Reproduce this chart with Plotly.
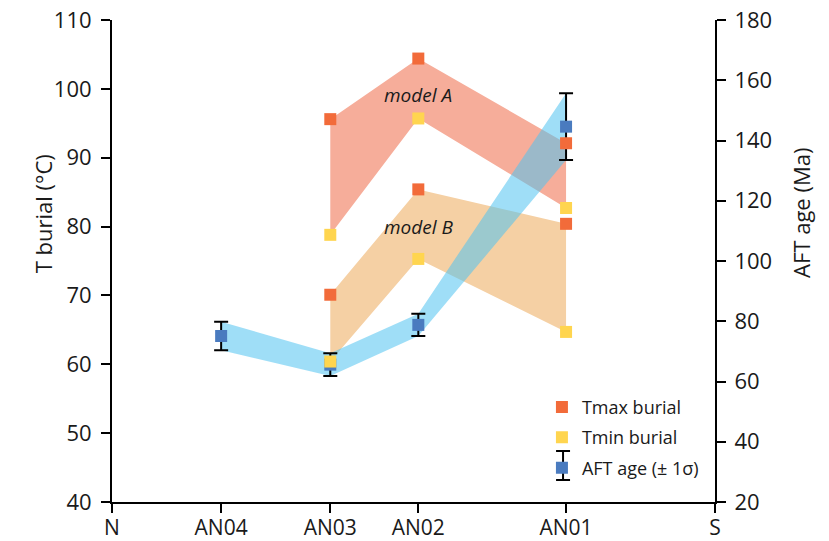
import plotly.graph_objects as go

# ---- data ----
axis_labels = ["N", "AN04", "AN03", "AN02", "AN01", "S"]
axis_pos = [0, 18.1, 36.2, 50.8, 75.3, 100]

model_sites = ["AN03", "AN02", "AN01"]
tmax_A = [95.6, 104.4, 92.1]
tmin_A = [78.8, 95.7, 82.7]
tmax_B = [70.1, 85.4, 80.4]
tmin_B = [60.4, 75.3, 64.7]

aft_sites = ["AN04", "AN03", "AN02", "AN01"]
aft_age = [75.1, 65.6, 78.8, 144.6]
aft_err = [4.7, 3.8, 3.7, 11.1]

pos = dict(zip(axis_labels, axis_pos))
mx = [pos[s] for s in model_sites]
ax_ = [pos[s] for s in aft_sites]

FONT = "Open Sans"
TXT = "#1a1a1a"
C_TMAX = "#F26B3A"
C_TMIN = "#FFD54F"
C_AFT = "#4A7BBF"

fig = go.Figure()

# model bands (left axis)
fig.add_trace(go.Scatter(x=mx + mx[::-1], y=tmax_A + tmin_A[::-1], fill="toself",
                         fillcolor="#F6AD9A", line=dict(width=0), mode="lines",
                         hoverinfo="skip", showlegend=False, yaxis="y"))
fig.add_trace(go.Scatter(x=mx + mx[::-1], y=tmax_B + tmin_B[::-1], fill="toself",
                         fillcolor="#F5D0A4", line=dict(width=0), mode="lines",
                         hoverinfo="skip", showlegend=False, yaxis="y"))

# AFT band and points (right axis)
upper = [a + e for a, e in zip(aft_age, aft_err)]
lower = [a - e for a, e in zip(aft_age, aft_err)]
fig.add_trace(go.Scatter(x=ax_ + ax_[::-1], y=upper + lower[::-1], fill="toself",
                         fillcolor="rgba(80,195,240,0.55)", line=dict(width=0), mode="lines",
                         hoverinfo="skip", showlegend=False, yaxis="y2"))
fig.add_trace(go.Scatter(x=ax_, y=aft_age, mode="markers", name="AFT age (\u00b1 1\u03c3)",
                         marker=dict(symbol="square", size=12, color=C_AFT),
                         error_y=dict(type="data", array=aft_err, color="black", thickness=2, width=7),
                         legendrank=3, legendgroup="c", yaxis="y2"))

# temperature points (top layer, same scale as left axis)
fig.add_trace(go.Scatter(x=mx + mx, y=tmin_A + tmin_B, mode="markers", name="Tmin burial",
                         marker=dict(symbol="square", size=12, color=C_TMIN),
                         legendrank=2, legendgroup="b", yaxis="y3"))
fig.add_trace(go.Scatter(x=mx + mx, y=tmax_A + tmax_B, mode="markers", name="Tmax burial",
                         marker=dict(symbol="square", size=12, color=C_TMAX),
                         legendrank=1, legendgroup="a", yaxis="y3"))

axis_common = dict(showgrid=False, zeroline=False, showline=True, linecolor="black",
                   linewidth=2, ticks="outside", ticklen=9, tickwidth=2, tickcolor="black",
                   automargin=False, ticklabeloverflow="allow")

# legend error-bar glyph for the AFT entry (paper coordinates)
lx, ly0, ly1, cap = 0.748, 0.0456, 0.1058, 0.0116
legend_bar = [
    dict(type="line", xref="paper", yref="paper", x0=lx, x1=lx, y0=ly0, y1=ly1,
         line=dict(color="black", width=2)),
    dict(type="line", xref="paper", yref="paper", x0=lx - cap, x1=lx + cap, y0=ly0, y1=ly0,
         line=dict(color="black", width=2)),
    dict(type="line", xref="paper", yref="paper", x0=lx - cap, x1=lx + cap, y0=ly1, y1=ly1,
         line=dict(color="black", width=2)),
]

fig.update_layout(
    width=821, height=533,
    margin=dict(l=104, r=114, t=12, b=39, autoexpand=False),
    paper_bgcolor="white", plot_bgcolor="white",
    xaxis=dict(range=[0, 100], tickvals=axis_pos, ticktext=axis_labels,
               ticklabelstandoff=-3, tickfont=dict(family=FONT, size=21, color=TXT),
               **axis_common),
    yaxis=dict(range=[40, 110], dtick=10, ticklabelstandoff=5,
               tickfont=dict(family=FONT, size=22, color=TXT), **axis_common),
    yaxis2=dict(range=[20, 180], dtick=20, side="right", overlaying="y",
                ticklabelstandoff=4, tickfont=dict(family=FONT, size=22, color=TXT),
                **axis_common),
    yaxis3=dict(range=[40, 110], overlaying="y", matches="y", visible=False),
    showlegend=True,
    legend=dict(x=0.713, y=0.235, xanchor="left", yanchor="top", bgcolor="rgba(0,0,0,0)",
                font=dict(family=FONT, size=18, color=TXT), traceorder="grouped",
                tracegroupgap=4),
    shapes=legend_bar,
    annotations=[
        dict(text="T burial (\u00b0C)", xref="paper", yref="paper", x=-0.1426, y=0.597,
             textangle=-90, showarrow=False, font=dict(family=FONT, size=22, color=TXT)),
        dict(text="AFT age (Ma)", xref="paper", yref="paper", x=1.171, y=0.60,
             textangle=-90, showarrow=False, font=dict(family=FONT, size=22, color=TXT)),
        dict(text="<i>model A</i>", x=pos["AN02"], y=99.1, xref="x", yref="y", showarrow=False,
             font=dict(family=FONT, size=19, color=TXT)),
        dict(text="<i>model B</i>", x=pos["AN02"], y=79.9, xref="x", yref="y", showarrow=False,
             font=dict(family=FONT, size=19, color=TXT)),
    ],
)

fig.write_html("out.html")
